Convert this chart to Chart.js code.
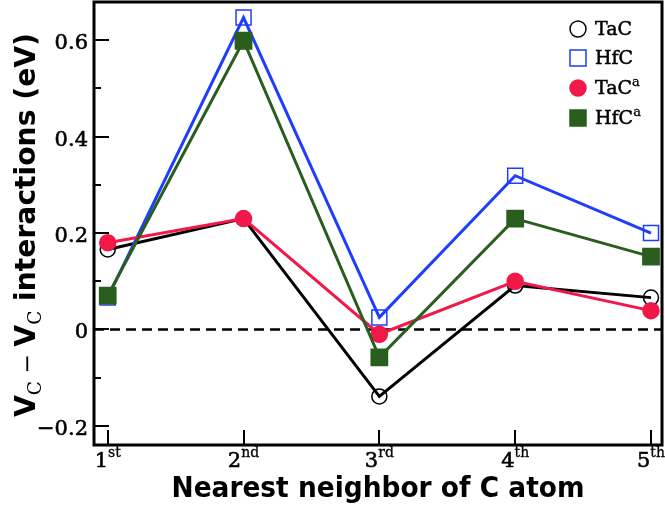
<!DOCTYPE html>
<html>
<head>
<meta charset="utf-8">
<script src="https://cdn.jsdelivr.net/npm/chart.js@4.4.0/dist/chart.umd.min.js"></script>
<style>
  html, body { margin: 0; padding: 0; background: #fff; }
</style>
</head>
<body>
<canvas id="chart" width="665" height="512"></canvas>
<script>
// neighbor shells on the x axis
const shells = [1, 2, 3, 4, 5];
const shellSuffix = ["st", "nd", "rd", "th", "th"];

// y axis ticks
const yMajor = [0.6, 0.4, 0.2, 0, -0.2];
const yMinor = [0.5, 0.3, 0.1, -0.1];

// V_C - V_C interaction energies (eV)
const tac = [0.166, 0.23, -0.139, 0.091, 0.066];
const hfc = [0.066, 0.647, 0.025, 0.319, 0.20];
const tacA = [0.18, 0.23, -0.01, 0.10, 0.039];
const hfcA = [0.07, 0.599, -0.058, 0.23, 0.151];

const seriesNames = ["TaC", "HfC", "TaC", "HfC"];
const seriesSup = ["", "", "a", "a"];

const SERIF = '"DejaVu Serif", serif';
const SANS = '"DejaVu Sans", sans-serif';

const pts = vals => vals.map((v, i) => ({ x: shells[i], y: v }));

// draws a run of text pieces centred on (x, y), squeezed to a given width
function drawRuns(ctx, runs, x, y, width) {
  let total = 0;
  for (const r of runs) {
    ctx.font = r.font;
    r.w = ctx.measureText(r.text).width;
    total += r.w;
  }
  const k = width ? width / total : 1;
  ctx.save();
  ctx.translate(x, y);
  ctx.scale(k, 1);
  let cx = -total / 2;
  for (const r of runs) {
    ctx.font = r.font;
    ctx.fillText(r.text, cx, r.dy || 0);
    if (r.heavy) {
      ctx.lineWidth = r.heavy;
      ctx.strokeText(r.text, cx, r.dy || 0);
    }
    cx += r.w;
  }
  ctx.restore();
}

function drawMarker(ctx, style, x, y, size, stroke, fill) {
  ctx.save();
  ctx.lineWidth = 1.5;
  ctx.strokeStyle = stroke;
  ctx.fillStyle = fill;
  ctx.beginPath();
  if (style === "circle") ctx.arc(x, y, size / 2, 0, Math.PI * 2);
  else ctx.rect(x - size / 2, y - size / 2, size, size);
  if (fill !== "transparent") ctx.fill();
  ctx.stroke();
  ctx.restore();
}

const axesPlugin = {
  id: "axesPlugin",
  beforeDatasetsDraw(chart) {
    const { ctx, chartArea: a, scales: { y } } = chart;
    const y0 = y.getPixelForValue(0);
    ctx.save();
    ctx.strokeStyle = "#000";
    ctx.lineWidth = 2.5;
    ctx.setLineDash([10, 6]);
    ctx.beginPath();
    ctx.moveTo(a.left, y0);
    ctx.lineTo(a.right, y0);
    ctx.stroke();
    ctx.restore();
  },
  afterDraw(chart) {
    const { ctx, chartArea: a, scales: { x, y } } = chart;
    ctx.save();
    ctx.fillStyle = "#000";
    ctx.strokeStyle = "#000";

    // inward ticks
    ctx.lineWidth = 2;
    ctx.beginPath();
    for (const v of yMajor) {
      const py = Math.round(y.getPixelForValue(v));
      ctx.moveTo(a.left, py); ctx.lineTo(a.left + 15, py);
    }
    for (const v of yMinor) {
      const py = Math.round(y.getPixelForValue(v));
      ctx.moveTo(a.left, py); ctx.lineTo(a.left + 7, py);
    }
    for (const s of shells) {
      const px = Math.round(x.getPixelForValue(s));
      ctx.moveTo(px, a.bottom); ctx.lineTo(px, a.bottom - 15);
    }
    ctx.stroke();

    // frame
    ctx.lineWidth = 3;
    ctx.strokeRect(a.left, a.top, a.right - a.left, a.bottom - a.top);

    // y tick labels
    ctx.textAlign = "left";
    ctx.textBaseline = "alphabetic";
    for (const v of yMajor) {
      const label = v === 0 ? "0" : (v < 0 ? "\u2212" : "") + Math.abs(v).toFixed(1);
      ctx.font = "21px " + SERIF;
      const w = ctx.measureText(label).width;
      drawRuns(ctx, [{ text: label, font: "21px " + SERIF, heavy: 0.6 }],
        a.left - 6 - w / 2, y.getPixelForValue(v) + 9);
    }

    // x tick labels with ordinal suffix
    shells.forEach((s, i) => {
      drawRuns(ctx, [
        { text: String(s), font: "21px " + SERIF, heavy: 0.6 },
        { text: shellSuffix[i], font: "14px " + SERIF, dy: -10, heavy: 0.3 }
      ], x.getPixelForValue(s), 467);
    });

    // axis titles
    drawRuns(ctx, [{ text: "Nearest neighbor of C atom", font: "bold 29px " + SANS }],
      (a.left + a.right) / 2, 497, 413);

    ctx.save();
    ctx.translate(35, 225);
    ctx.rotate(-Math.PI / 2);
    drawRuns(ctx, [
      { text: "V", font: "bold 29px " + SANS },
      { text: "C", font: "19px " + SERIF, dy: 6 },
      { text: " \u2212 ", font: "24px " + SERIF },
      { text: "V", font: "bold 29px " + SANS },
      { text: "C", font: "19px " + SERIF, dy: 6 },
      { text: " interactions (eV)", font: "bold 29px " + SANS }
    ], 0, 0, 384);
    ctx.restore();

    // legend
    const styles = [
      ["circle", "#000", "transparent"],
      ["rect", "#1f3dff", "transparent"],
      ["circle", "#f2184a", "#f2184a"],
      ["rect", "#2a5e1e", "#2a5e1e"]
    ];
    const rows = [29, 58, 88, 118];
    styles.forEach((st, i) => {
      drawMarker(ctx, st[0], 578, rows[i], 16, st[1], st[2]);
      ctx.fillStyle = "#000";
      ctx.strokeStyle = "#000";
      ctx.font = "19px " + SERIF;
      const w = ctx.measureText(seriesNames[i]).width;
      const runs = [{ text: seriesNames[i], font: "19px " + SERIF, heavy: 0.5 }];
      let sw = 0;
      if (seriesSup[i]) {
        ctx.font = "13px " + SERIF;
        sw = ctx.measureText(seriesSup[i]).width;
        runs.push({ text: seriesSup[i], font: "13px " + SERIF, dy: -8, heavy: 0.3 });
      }
      drawRuns(ctx, runs, 595 + (w + sw) / 2, rows[i] + 6);
    });
    ctx.restore();
  }
};

const line = (data, color, style, radius, filled, order) => ({
  data: pts(data),
  borderColor: color,
  borderWidth: 3,
  pointStyle: style,
  pointRadius: radius,
  pointHoverRadius: radius,
  pointBorderColor: color,
  pointBackgroundColor: filled ? color : "transparent",
  pointBorderWidth: 1.5,
  tension: 0,
  clip: false,
  order: order
});

new Chart(document.getElementById("chart"), {
  type: "line",
  data: {
    datasets: [
      line(tac, "#000000", "circle", 7.5, false, 4),
      line(hfc, "#1f3dff", "rect", 10.6, false, 3),
      line(tacA, "#f2184a", "circle", 8, true, 2),
      line(hfcA, "#2a5e1e", "rect", 11.5, true, 1)
    ]
  },
  options: {
    responsive: false,
    animation: false,
    devicePixelRatio: 1,
    layout: { autoPadding: false, padding: { left: 94, right: 3, top: 2, bottom: 67 } },
    plugins: { legend: { display: false }, tooltip: { enabled: false } },
    scales: {
      x: { type: "linear", min: 0.899, max: 5.081, display: false },
      y: { type: "linear", min: -0.2398, max: 0.6794, display: false }
    }
  },
  plugins: [axesPlugin]
});
</script>
</body>
</html>
